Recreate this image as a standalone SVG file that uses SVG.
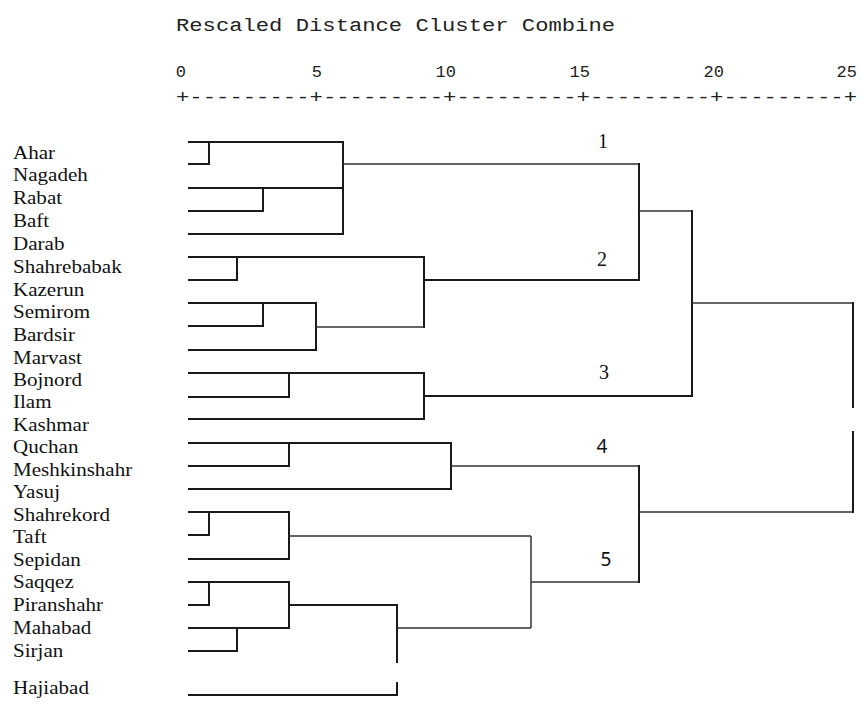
<svg xmlns="http://www.w3.org/2000/svg" width="861" height="704" viewBox="0 0 861 704">
<style>
.mono{font-family:"Liberation Mono","Courier New",monospace;fill:#222}
.lbl{font-family:"Liberation Serif","Times New Roman",serif;font-size:18px;fill:#111}
.cn{font-family:"Liberation Serif","Times New Roman",serif;font-size:20px;fill:#111;text-anchor:middle}
.cs{font-family:"Noto Sans","DejaVu Sans",sans-serif;font-size:19px;fill:#111;text-anchor:middle}
.ln{fill:none;stroke:#1a1a1a;stroke-width:2;stroke-linecap:square}
.tn{fill:none;stroke:#333;stroke-width:1.5}
</style>
<g id="header">
<text class="mono" x="176" y="31" font-size="18" textLength="439" lengthAdjust="spacingAndGlyphs">Rescaled Distance Cluster Combine</text>
<g class="mono" font-size="17" text-anchor="end">
<text x="186" y="77">0</text>
<text x="322" y="77">5</text>
<text x="456" y="77">10</text>
<text x="590" y="77">15</text>
<text x="724" y="77">20</text>
<text x="857" y="77">25</text>
</g>
<text class="mono" x="176" y="103" font-size="18" textLength="681" lengthAdjust="spacingAndGlyphs">+---------+---------+---------+---------+---------+</text>
</g>
<g id="leaves" transform="scale(1.17 1)">
<g id="leaf-ahar"><text class="lbl" x="11.1" y="159">Ahar</text></g>
<g id="leaf-nagadeh"><text class="lbl" x="11.1" y="181">Nagadeh</text></g>
<g id="leaf-rabat"><text class="lbl" x="11.1" y="204">Rabat</text></g>
<g id="leaf-baft"><text class="lbl" x="11.1" y="227">Baft</text></g>
<g id="leaf-darab"><text class="lbl" x="11.1" y="250">Darab</text></g>
<g id="leaf-shahrebabak"><text class="lbl" x="11.1" y="273">Shahrebabak</text></g>
<g id="leaf-kazerun"><text class="lbl" x="11.1" y="296">Kazerun</text></g>
<g id="leaf-semirom"><text class="lbl" x="11.1" y="318">Semirom</text></g>
<g id="leaf-bardsir"><text class="lbl" x="11.1" y="341">Bardsir</text></g>
<g id="leaf-marvast"><text class="lbl" x="11.1" y="364">Marvast</text></g>
<g id="leaf-bojnord"><text class="lbl" x="11.1" y="386">Bojnord</text></g>
<g id="leaf-ilam"><text class="lbl" x="11.1" y="408">Ilam</text></g>
<g id="leaf-kashmar"><text class="lbl" x="11.1" y="431">Kashmar</text></g>
<g id="leaf-quchan"><text class="lbl" x="11.1" y="453">Quchan</text></g>
<g id="leaf-meshkinshahr"><text class="lbl" x="11.1" y="476">Meshkinshahr</text></g>
<g id="leaf-yasuj"><text class="lbl" x="11.1" y="498">Yasuj</text></g>
<g id="leaf-shahrekord"><text class="lbl" x="11.1" y="521">Shahrekord</text></g>
<g id="leaf-taft"><text class="lbl" x="11.1" y="543">Taft</text></g>
<g id="leaf-sepidan"><text class="lbl" x="11.1" y="566">Sepidan</text></g>
<g id="leaf-saqqez"><text class="lbl" x="11.1" y="588">Saqqez</text></g>
<g id="leaf-piranshahr"><text class="lbl" x="11.1" y="611">Piranshahr</text></g>
<g id="leaf-mahabad"><text class="lbl" x="11.1" y="634">Mahabad</text></g>
<g id="leaf-sirjan"><text class="lbl" x="11.1" y="657">Sirjan</text></g>
<g id="leaf-hajiabad"><text class="lbl" x="11.1" y="694">Hajiabad</text></g>
</g>
<g id="cluster-labels">
<g id="cluster-1"><text class="cn" x="603" y="148">1</text></g>
<g id="cluster-2"><text class="cn" x="602" y="266">2</text></g>
<g id="cluster-3"><text class="cn" x="604" y="379">3</text></g>
<g id="cluster-4"><text class="cs" x="602" y="453">4</text></g>
<g id="cluster-5"><text class="cs" x="606" y="566">5</text></g>
</g>
<g id="connectors">
<!-- cluster 1 -->
<path class="ln" d="M189 142H343M189 164H209V142M189 188H343M189 211H263V188M189 234H343M343 142V234"/>
<path class="tn" d="M343 164H639"/>
<!-- cluster 2 -->
<path class="ln" d="M189 257H424M189 280H237V257M189 303H316M189 326H263V303M189 350H316V303M424 257V327"/>
<path class="tn" d="M316 327H424"/>
<path class="ln" d="M424 280H639M639 164V280"/>
<path class="tn" d="M639 211H692"/>
<!-- cluster 3 -->
<path class="ln" d="M189 373H424M189 397H289V373M189 419H424M424 373V419M424 396H692M692 211V396"/>
<path class="tn" d="M692 303H853"/>
<path class="ln" d="M853 303V407M853 432V512"/>
<!-- cluster 4 -->
<path class="ln" d="M189 443H451M189 466H289V443M189 489H451M451 443V489"/>
<path class="tn" d="M451 466H639"/>
<!-- cluster 5 -->
<path class="ln" d="M189 512H289M189 535H209V512M189 559H289M289 512V559"/>
<path class="tn" d="M289 536H531"/>
<path class="ln" d="M189 582H289M189 605H209V582M189 628H289M189 651H237V628M289 582V628M289 605H397M397 605V662M397 683V695H189"/>
<path class="tn" d="M397 628H531M531 536V628M531 582H639"/>
<path class="ln" d="M639 466V582"/>
<path class="tn" d="M639 512H853"/>
</g>
</svg>
